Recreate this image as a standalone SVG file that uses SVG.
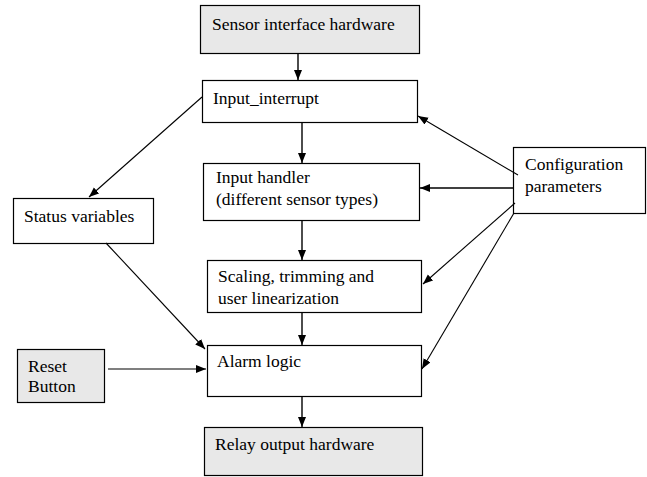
<svg xmlns="http://www.w3.org/2000/svg" width="647" height="477" viewBox="0 0 647 477">
<style>
  .box { fill: #ffffff; stroke: #000000; stroke-width: 1.2; }
  .hw { fill: #e8e8e8; stroke: #000000; stroke-width: 1.2; }
  .t { font-family: 'Liberation Serif', 'DejaVu Serif', serif; font-size: 17.5px; fill: #000000; }
  .c { stroke: #000000; stroke-width: 1.4; fill: none; marker-end: url(#arr); }
  .d { stroke: #000000; stroke-width: 1.1; fill: none; marker-end: url(#arr); }
</style>
<defs>
  <marker id="arr" markerUnits="userSpaceOnUse" markerWidth="11" markerHeight="9" refX="10" refY="4" orient="auto">
    <path d="M0,0 L10,4 L0,8 z" fill="#000000"/>
  </marker>
</defs>
<rect width="647" height="477" fill="#ffffff"/>

<g id="sensor">
  <rect class="hw" x="200.5" y="5.5" width="219" height="48"/>
  <text class="t" font-family="Liberation Serif, serif" x="212" y="30">Sensor interface hardware</text>
</g>
<g id="input_interrupt">
  <rect class="box" x="202.5" y="80.5" width="215" height="42"/>
  <text class="t" font-family="Liberation Serif, serif" x="213" y="104">Input_interrupt</text>
</g>
<g id="input_handler">
  <rect class="box" x="203.5" y="163.5" width="216" height="57"/>
  <text class="t" font-family="Liberation Serif, serif" x="216" y="183">Input handler</text>
  <text class="t" font-family="Liberation Serif, serif" x="216" y="205">(different sensor types)</text>
</g>
<g id="scaling">
  <rect class="box" x="207.5" y="260.5" width="214" height="52"/>
  <text class="t" font-family="Liberation Serif, serif" x="218" y="282">Scaling, trimming and</text>
  <text class="t" font-family="Liberation Serif, serif" x="218" y="304">user linearization</text>
</g>
<g id="alarm">
  <rect class="box" x="207.5" y="345.5" width="214" height="51"/>
  <text class="t" font-family="Liberation Serif, serif" x="217" y="367">Alarm logic</text>
</g>
<g id="relay">
  <rect class="hw" x="204.5" y="427.5" width="218" height="48"/>
  <text class="t" font-family="Liberation Serif, serif" x="215" y="450">Relay output hardware</text>
</g>
<g id="status">
  <rect class="box" x="13.5" y="198.5" width="140" height="45"/>
  <text class="t" font-family="Liberation Serif, serif" x="24" y="222">Status variables</text>
</g>
<g id="reset">
  <rect class="hw" x="17.5" y="349.5" width="87" height="53"/>
  <text class="t" font-family="Liberation Serif, serif" x="28" y="372">Reset</text>
  <text class="t" font-family="Liberation Serif, serif" x="28" y="392">Button</text>
</g>
<g id="config">
  <rect class="box" x="513.5" y="147.5" width="132" height="66"/>
  <text class="t" font-family="Liberation Serif, serif" x="525" y="170">Configuration</text>
  <text class="t" font-family="Liberation Serif, serif" x="525" y="192">parameters</text>
</g>

<g id="connectors">
  <line class="c" x1="298" y1="54" x2="298" y2="80"/>
  <line class="c" x1="302" y1="123" x2="302" y2="163"/>
  <line class="c" x1="302" y1="221" x2="302" y2="260"/>
  <line class="c" x1="302" y1="313" x2="302" y2="345"/>
  <line class="c" x1="302" y1="397" x2="302" y2="427"/>
  <line class="d" x1="202" y1="97" x2="89" y2="197"/>
  <line class="d" x1="106" y1="243" x2="205" y2="349"/>
  <line class="d" x1="108" y1="369" x2="206" y2="369"/>
  <line class="d" x1="518" y1="175" x2="418" y2="116"/>
  <line class="c" x1="513" y1="188" x2="420" y2="188"/>
  <line class="d" x1="515" y1="203" x2="423" y2="284"/>
  <line class="d" x1="514" y1="213" x2="422" y2="369"/>
</g>
</svg>
